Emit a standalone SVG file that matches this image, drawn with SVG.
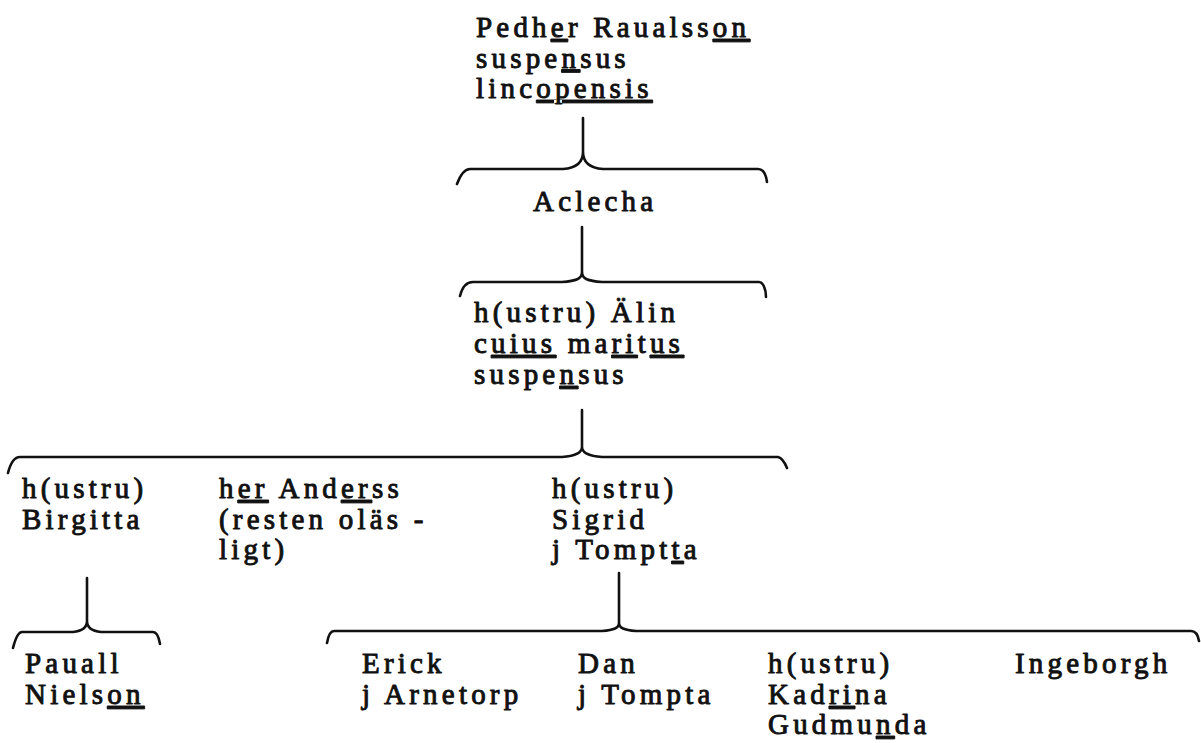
<svg xmlns="http://www.w3.org/2000/svg" width="1201" height="743" viewBox="0 0 1201 743">
<style>
text{font-family:"Liberation Serif","Times New Roman",serif;font-size:29px;letter-spacing:4.2px;fill:#111;stroke:#111;stroke-width:0.95px;stroke-linejoin:round}
.u{text-decoration:underline;text-decoration-thickness:2.5px;text-underline-offset:5px}
.br{fill:none;stroke:#111;stroke-width:2.6;stroke-linecap:round;stroke-linejoin:round}
</style>
<rect width="1201" height="743" fill="#fff"/>
<g id="connectors">
<path class="br" d="M583,118 V152 C583,162 577,168 563,169 H470 C464,169 460,176 457,184 M583,152 C583,162 589,168 603,169 H758 C763,169 766,174 767,182"/>
<path class="br" d="M582,227 V272 C582,279 576,281 562,282 H473 C466,282 462,288 460,296 M582,272 C582,279 588,281 602,282 H759 C763,282 766,289 766,297"/>
<path class="br" d="M582,410 V447 C582,453 576,456 562,457 H20 C14,457 10,465 8,473 M582,447 C582,453 588,456 602,457 H778 C782,458 785,463 787,468"/>
<path class="br" d="M619,573 V623 C619,628 614,630 602,631 H334 C330,631 328,637 327,643 M619,623 C619,628 624,630 636,631 H1191 C1195,631 1198,635 1199,641"/>
<path class="br" d="M87,578 V621 C87,627 83,631 73,632 H22 C18,632 15,640 13,648 M87,621 C87,627 91,631 101,632 H153 C157,632 159,638 160,644"/>
</g>
<g id="pedher">
<text><tspan x="476" y="37">Pedh<tspan class="u">e</tspan>r Raualss<tspan class="u">on</tspan></tspan><tspan x="476" y="67.5">suspe<tspan class="u">n</tspan>sus</tspan><tspan x="476" y="98">linc<tspan class="u">opensis</tspan></tspan></text>
</g>
<g id="aclecha">
<text x="533" y="211">Aclecha</text>
</g>
<g id="alin">
<text><tspan x="474" y="322">h(ustru) Älin</tspan><tspan x="474" y="353">c<tspan class="u">uius</tspan> ma<tspan class="u">ri</tspan>t<tspan class="u">us</tspan></tspan><tspan x="474" y="384">suspe<tspan class="u">n</tspan>sus</tspan></text>
</g>
<g id="birgitta">
<text><tspan x="22" y="498">h(ustru)</tspan><tspan x="22" y="529">Birgitta</tspan></text>
</g>
<g id="anderss">
<text><tspan x="219" y="498">h<tspan class="u">er</tspan> And<tspan class="u">er</tspan>ss</tspan><tspan x="219" y="529">(resten oläs -</tspan><tspan x="219" y="559">ligt)</tspan></text>
</g>
<g id="sigrid">
<text><tspan x="552" y="498">h(ustru)</tspan><tspan x="552" y="529">Sigrid</tspan><tspan x="552" y="559">j Tompt<tspan class="u">t</tspan>a</tspan></text>
</g>
<g id="pauall">
<text><tspan x="25" y="673">Pauall</tspan><tspan x="25" y="704">Niels<tspan class="u">on</tspan></tspan></text>
</g>
<g id="erick">
<text><tspan x="362" y="673">Erick</tspan><tspan x="362" y="704">j Arnetorp</tspan></text>
</g>
<g id="dan">
<text><tspan x="578" y="673">Dan</tspan><tspan x="578" y="704">j Tompta</tspan></text>
</g>
<g id="kadrina">
<text><tspan x="768" y="673">h(ustru)</tspan><tspan x="768" y="704">Kad<tspan class="u">ri</tspan>na</tspan><tspan x="768" y="734">Gudmu<tspan class="u">n</tspan>da</tspan></text>
</g>
<g id="ingeborgh">
<text x="1015" y="673">Ingeborgh</text>
</g>
</svg>
